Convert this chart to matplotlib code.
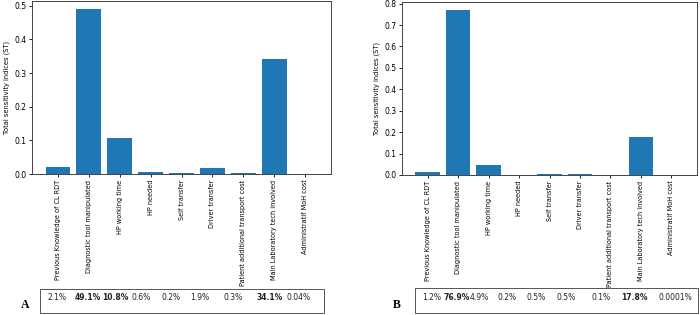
#!/usr/bin/env python3

import matplotlib.pyplot as plt
import matplotlib.transforms as mtransforms
from matplotlib.patches import Rectangle

factors = ['Previous Knowledge of CL RDT', 'Diagnostic tool manipulated',
           'HP working time', 'HP needed', 'Self transfer', 'Driver transfer',
           'Patient additional transport cost', 'Main Laboratory tech involved',
           'Administratif MoH cost']

st_a = [0.021, 0.491, 0.108, 0.006, 0.002, 0.019, 0.003, 0.341, 0.0004]
st_b = [0.012, 0.769, 0.049, 0.002, 0.005, 0.005, 0.001, 0.178, 0.000001]

pct_a = ['2.1%', '49.1%', '10.8%', '0.6%', '0.2%', '1.9%', '0.3%', '34.1%', '0.04%']
pct_b = ['1.2%', '76.9%', '4.9%', '0.2%', '0.5%', '0.5%', '0.1%', '17.8%', '0.0001%']
bold_a = [False, True, True, False, False, False, False, True, False]
bold_b = [False, True, False, False, False, False, False, True, False]

# horizontal nudges (pixels) of the percentage labels relative to the bars
nudge_a = [-1, -1, -4, -9, -10, -13, -10, -5, -6]
nudge_b = [4, -1, -9, -12, -13, -14, -9, -7, 4]

W, H = 700.0, 315.0

figure = plt.figure(figsize=(7.0, 3.15), dpi=100)


def px_axes(x0, y0, x1, y1):
    # pixel box (top-left origin) -> figure fraction axes
    return figure.add_axes([x0 / W, 1 - y1 / H, (x1 - x0) / W, (y1 - y0) / H])


panels = [
    ('A', st_a, pct_a, bold_a, nudge_a, (32, 0.5, 331, 174), (40, 289, 324, 313), 25),
    ('B', st_b, pct_b, bold_b, nudge_b, (402, 2, 697, 175), (415, 288, 698, 313), 397),
]

for letter, st, pct, bold, nudge, abox, tbox, lx in panels:
    ax = px_axes(*abox)
    x = range(len(factors))
    ax.bar(x, st, color='#1f77b4')
    ax.set_xticks(list(x))
    ax.set_xticklabels(factors, rotation=90, fontsize=4.7)
    ax.tick_params(axis='y', labelsize=5.5, length=2.5, width=0.6, pad=1.5)
    ax.tick_params(axis='x', length=2.5, width=0.6, pad=1.5)
    ax.set_ylabel('Total sensitivity indices (ST)', fontsize=4.8, labelpad=3)
    for s in ax.spines.values():
        s.set_linewidth(0.7)
        s.set_color('#444444')

    # percentage table under the plot
    x0, y0, x1, y1 = tbox
    figure.add_artist(Rectangle((x0 / W, 1 - y1 / H), (x1 - x0) / W, (y1 - y0) / H,
                                transform=figure.transFigure, fill=False,
                                edgecolor='#555555', linewidth=0.7))
    trans = mtransforms.blended_transform_factory(ax.transData, figure.transFigure)
    for i, (p, b, dx) in enumerate(zip(pct, bold, nudge)):
        off = mtransforms.offset_copy(trans, fig=figure, x=dx * 0.72, y=0, units='points')
        ax.text(i, 1 - 297.5 / H, p, transform=off, ha='center', va='center',
                fontsize=5.5, fontweight='bold' if b else 'normal', color='#222222',
                clip_on=False)
    figure.text(lx / W, 1 - 305 / H, letter, ha='center', va='center',
                fontsize=8.5, fontweight='bold', family='Liberation Serif')

figure.savefig('out.png', dpi=100)
